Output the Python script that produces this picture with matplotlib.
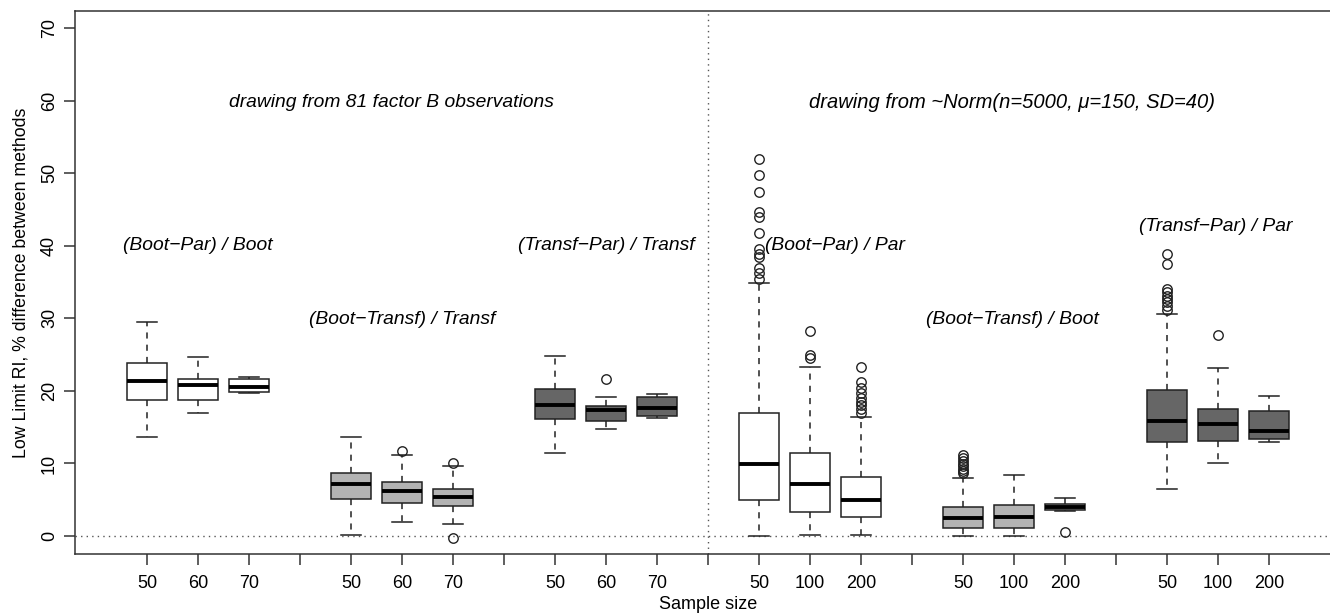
import matplotlib
matplotlib.use("Agg")
import matplotlib.pyplot as plt

# ---------------- data ----------------
group_names = ["(Boot\u2212Par) / Boot", "(Boot\u2212Transf) / Transf", "(Transf\u2212Par) / Transf",
               "(Boot\u2212Par) / Par", "(Boot\u2212Transf) / Boot", "(Transf\u2212Par) / Par"]
size_labels = ["50", "60", "70", "50", "60", "70", "50", "60", "70",
               "50", "100", "200", "50", "100", "200", "50", "100", "200"]

whisker_low = [13.6, 17.0, 19.7, 0.15, 1.95, 1.65, 11.4, 14.8, 16.3,
               0.0, 0.1, 0.1, 0.05, 0.05, 3.4, 6.45, 10.05, 13.0]
q1 = [18.8, 18.8, 19.8, 5.05, 4.5, 4.2, 16.1, 15.9, 16.6,
      4.9, 3.35, 2.6, 1.1, 1.15, 3.55, 12.9, 13.1, 13.4]
median = [21.3, 20.8, 20.6, 7.2, 6.15, 5.4, 18.0, 17.4, 17.7,
          9.9, 7.1, 5.0, 2.55, 2.65, 4.05, 15.9, 15.4, 14.5]
q3 = [23.9, 21.6, 21.6, 8.7, 7.4, 6.5, 20.2, 17.9, 19.1,
      17.0, 11.5, 8.2, 4.0, 4.25, 4.45, 20.1, 17.45, 17.2]
whisker_high = [29.5, 24.6, 21.9, 13.6, 11.2, 9.65, 24.8, 19.1, 19.6,
                34.8, 23.3, 16.4, 8.05, 8.45, 5.3, 30.55, 23.1, 19.3]
outliers = [
    [], [], [],
    [], [11.7], [10.1, -0.3],
    [], [21.6], [],
    [35.4, 36.3, 36.9, 38.4, 38.8, 39.5, 41.8, 43.9, 44.6, 47.4, 49.8, 52.0],
    [24.5, 24.9, 28.3],
    [16.9, 17.5, 18.05, 18.5, 19.06, 19.75, 20.4, 21.2, 23.3],
    [8.7, 9.0, 9.3, 9.6, 9.9, 10.3, 10.7, 11.1],
    [],
    [0.5],
    [31.1, 31.7, 32.2, 32.65, 33.1, 33.6, 34.1, 37.5, 38.9],
    [27.7],
    [],
]
panel_titles = ["drawing from 81 factor B observations",
                "drawing from ~Norm(n=5000, \u03bc=150, SD=40)"]

# ---------------- styling ----------------
plt.rcParams["font.family"] = ["Liberation Sans", "DejaVu Sans"]
group_fills = ["white", "#b3b3b3", "#666666", "white", "#b3b3b3", "#666666"]

W, H = 1330, 613
fig = plt.figure(figsize=(W / 100, H / 100), dpi=100)
x0_px, x1_px = 74.6, 1341.4
y_top_px, y_bot_px = 11, 554
ax = fig.add_axes([x0_px / W, 1 - y_bot_px / H, (x1_px - x0_px) / W, (y_bot_px - y_top_px) / H])

positions = []
for g in range(6):
    for k in range(3):
        positions.append(g * 4 + k + 1)

stats = []
for i in range(len(positions)):
    stats.append(dict(whislo=whisker_low[i], q1=q1[i], med=median[i], q3=q3[i],
                      whishi=whisker_high[i], fliers=outliers[i]))

bp = ax.bxp(stats, positions=positions, widths=0.8, patch_artist=True,
            showfliers=True, manage_ticks=False,
            boxprops=dict(linewidth=1.1, edgecolor="#222222"),
            medianprops=dict(linewidth=2.8, color="black", solid_capstyle="butt"),
            whiskerprops=dict(linewidth=1.1, color="#222222", linestyle=(0, (4, 4))),
            capprops=dict(linewidth=1.1, color="#222222"),
            flierprops=dict(marker="o", markersize=6.8, markerfacecolor="none",
                            markeredgecolor="#222222", markeredgewidth=1.0, linestyle="none"))
for i, patch in enumerate(bp["boxes"]):
    patch.set_facecolor(group_fills[i // 3])

ax.set_xlim(-0.42, 24.42)
ax.set_ylim(-2.48, 72.35)

# reference lines
ax.axhline(0, color="#555555", linestyle=(0, (1, 3)), linewidth=1.0, zorder=0)
ax.axvline(12, color="#555555", linestyle=(0, (1, 3)), linewidth=1.0, zorder=0)

# ticks
sep_ticks = [4, 8, 12, 16, 20]
all_ticks = positions + sep_ticks
all_labels = size_labels + [""] * len(sep_ticks)
ax.set_xticks(all_ticks)
ax.set_xticklabels(all_labels)
ax.set_yticks(range(0, 71, 10))
ax.set_yticklabels([str(v) for v in range(0, 71, 10)], rotation=90, va="center")
ax.tick_params(axis="both", direction="out", length=8, width=1.1, color="#333333",
               labelsize=13, pad=4)
ax.tick_params(axis="x", pad=7)
for s in ax.spines.values():
    s.set_linewidth(1.1)
    s.set_color("#333333")

ax.set_xlabel("Sample size", fontsize=13, labelpad=3)
ax.set_ylabel("Low Limit RI, % difference between methods", fontsize=12.8, labelpad=8)

# annotations (positions in data units)
text_kw = dict(fontsize=13.9, style="italic", ha="center", va="center")
ax.text(5.8, 59.8, panel_titles[0], **text_kw)
ax.text(17.97, 59.8, panel_titles[1], fontsize=14.5, style="italic", ha="center", va="center")
label_xy = [(2.0, 40.0), (6.0, 29.8), (10.0, 40.0), (14.48, 40.0), (17.97, 29.8), (21.95, 42.7)]
for name, (tx, ty) in zip(group_names, label_xy):
    ax.text(tx, ty, name, **text_kw)

fig.savefig("out.png", dpi=100)
